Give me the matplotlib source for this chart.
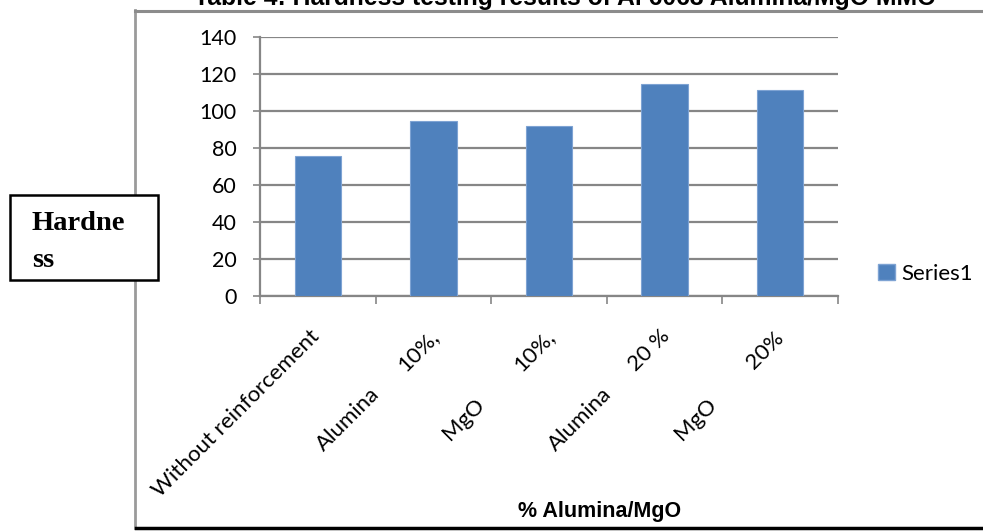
import matplotlib.pyplot as plt
from matplotlib.patches import Rectangle, Patch
from matplotlib.lines import Line2D

# data
categories = ["Without reinforcement", "10%,\nAlumina", "10%,\nMgO", "20 %\nAlumina", "20%\nMgO"]
hardness = [75.5, 94.5, 92, 114.5, 111.5]
y_ticks = [0, 20, 40, 60, 80, 100, 120, 140]
series_name = "Series1"

W, H = 983, 531
BLUE = "#4F81BD"
GRID = "#868686"
TICK_FONT = "Lato"


def fx(px):
    return px / W


def fy(py):
    return 1 - py / H


fig = plt.figure(figsize=(W / 100, H / 100), dpi=100)
ax = fig.add_axes([fx(260), fy(296), fx(838) - fx(260), fy(37) - fy(296)])

x = list(range(len(categories)))
ax.bar(x, hardness, width=0.4, color=BLUE, edgecolor="#7EA3D3", linewidth=0.8, zorder=3)

ax.set_xlim(-0.5, len(categories) - 0.5)
ax.set_ylim(0, 140)
ax.set_yticks(y_ticks)
ax.set_yticklabels([str(v) for v in y_ticks], fontsize=15.5, family=TICK_FONT)
ax.yaxis.grid(True, color=GRID, linewidth=1.6, zorder=0)
ax.tick_params(axis="y", length=5, width=1.2, color=GRID, pad=12)

# category boundary ticks on x, labels drawn by hand
ax.set_xticks([i - 0.5 for i in range(len(categories) + 1)])
ax.set_xticklabels([])
ax.tick_params(axis="x", length=6, width=1.2, color=GRID)

for side in ["top", "right"]:
    ax.spines[side].set_visible(False)
for side in ["left", "bottom"]:
    ax.spines[side].set_color(GRID)
    ax.spines[side].set_linewidth(1.6)

# rotated labels: last line sits lower-left, first line of two sits near the tick
for i, lab in enumerate(categories):
    lines = lab.split("\n")
    offsets = [(-82, -118)] if len(lines) == 1 else [(-15, -54), (-85, -123)]
    for txt, (dx, dy) in zip(lines, offsets):
        ax.annotate(txt, xy=(i, 0), xycoords=("data", "axes fraction"),
                    xytext=(dx, dy), textcoords="offset pixels",
                    rotation=45, rotation_mode="anchor", ha="center", va="center",
                    fontsize=16, family=TICK_FONT, annotation_clip=False)

fig.text(fx(600), fy(512), "% Alumina/MgO", ha="center", va="center",
         fontsize=15.5, fontweight="bold", family="Liberation Sans")

fig.legend(handles=[Patch(facecolor=BLUE, edgecolor="#7EA3D3")], labels=[series_name],
           loc="center left", bbox_to_anchor=(fx(867), fy(274)), frameon=False,
           prop={"family": TICK_FONT, "size": 16},
           handlelength=0.75, handleheight=0.75, handletextpad=0.3, borderpad=0)

# outer frame of the chart area
fig.add_artist(Line2D([fx(135), fx(135)], [fy(10), fy(528)], color="#9A9A9A", linewidth=2))
fig.add_artist(Line2D([fx(135), 1], [fy(10.5), fy(10.5)], color="#8C8C8C", linewidth=2.2))
fig.add_artist(Line2D([fx(136), 1], [fy(528), fy(528)], color="black", linewidth=2.5))

# title, cut off at the top edge like in the source image
fig.text(fx(565), fy(5), "Table 4: Hardness testing results of Al 6063 Alumina/MgO MMC",
         ha="center", va="baseline", fontsize=17.8, fontweight="bold", family="Liberation Sans")

# y axis label box
fig.add_artist(Rectangle((fx(10), fy(280)), fx(158) - fx(10), fy(195) - fy(280),
                         transform=fig.transFigure, facecolor="white", edgecolor="black",
                         linewidth=1.8, zorder=5))
fig.text(fx(32), fy(211), "Hardne\nss", ha="left", va="top", fontsize=20.5,
         fontweight="bold", family="Liberation Serif", linespacing=1.65, zorder=6)

fig.savefig("out.png", dpi=100)
